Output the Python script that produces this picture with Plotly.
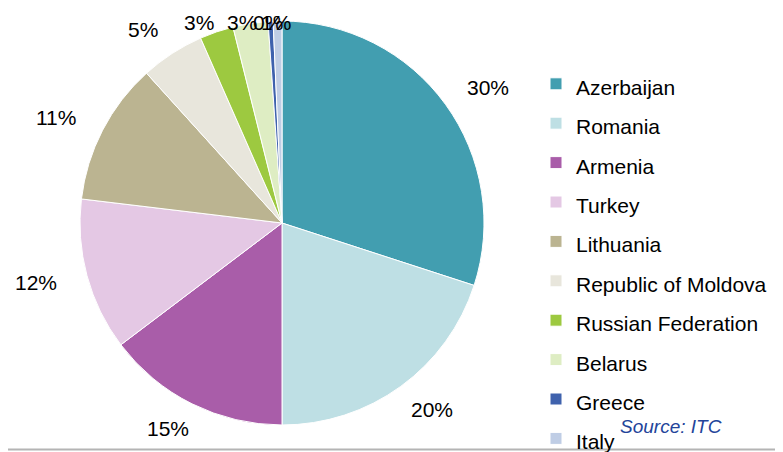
import math
import plotly.graph_objects as go

countries = ["Azerbaijan", "Romania", "Armenia", "Turkey", "Lithuania",
             "Republic of Moldova", "Russian Federation", "Belarus", "Greece", "Italy"]
shares = [30.0, 20.0, 14.7, 12.2, 11.4, 5.1, 2.7, 2.8, 0.4, 0.7]
colors = ["#429EB0", "#BEDFE4", "#A95DA9", "#E4C8E4", "#BBB491",
          "#E8E6DC", "#9DC940", "#DEEDC3", "#3F62AD", "#BFCDE5"]
source_text = "Source: ITC"

W, H = 783, 452
OFF = 8  # page body margin that shifts the figure in the browser
FONT = "Liberation Sans, Arial, sans-serif"

# pie geometry (page pixels)
CX, CY, R = 282, 223, 202
# label placement ellipse (page pixels)
RX, RY, YMIN = 255, 230, 23


def px(x):
    return (x - OFF) / W


def py(y):
    return 1 - (y - OFF) / H


# legend labels rendered at 21px inside a taller legend line (Excel-like spacing)
legend_labels = ["<span style='font-size:21px'>%s</span>" % c for c in countries]

fig = go.Figure(go.Pie(
    labels=legend_labels,
    values=shares,
    sort=False,
    direction="clockwise",
    rotation=0,
    marker=dict(colors=colors, line=dict(color="white", width=1)),
    textinfo="none",
    domain=dict(x=[px(CX - R), px(CX + R)], y=[py(CY + R), py(CY - R)]),
    hoverinfo="label+percent",
))

# percentage labels outside the slices, positioned from each slice's mid-angle
total = sum(shares)
annotations = []
cum = 0.0
for v in shares:
    mid = (cum + v / 2) / total
    cum += v
    th = 2 * math.pi * mid
    x = CX + RX * math.sin(th)
    y = max(CY - RY * math.cos(th), YMIN)
    annotations.append(dict(
        text="%d%%" % round(100 * v / total),
        xref="paper", yref="paper", x=px(x), y=py(y),
        xanchor="center", yanchor="middle", showarrow=False,
        font=dict(family=FONT, size=21, color="#000000"),
    ))

annotations.append(dict(
    text="<i>%s</i>" % source_text,
    xref="paper", yref="paper",
    x=px(671), y=py(426),
    xanchor="center", yanchor="middle",
    showarrow=False,
    font=dict(family=FONT, size=19, color="#23449A"),
))

fig.update_layout(
    width=W, height=H,
    margin=dict(l=0, r=0, t=0, b=0, autoexpand=False),
    paper_bgcolor="white",
    plot_bgcolor="white",
    font=dict(family=FONT, color="#000000"),
    showlegend=True,
    legend=dict(
        x=px(536), xanchor="left",
        y=py(59.1), yanchor="top",
        font=dict(family=FONT, size=28, color="#000000"),
        bgcolor="rgba(0,0,0,0)",
        borderwidth=0,
        traceorder="normal",
    ),
    annotations=annotations,
    shapes=[dict(
        type="line", xref="paper", yref="paper",
        x0=0, x1=1, y0=py(449.5), y1=py(449.5),
        line=dict(color="#B4B4B4", width=2),
    )],
)

fig.write_html("out.html")
